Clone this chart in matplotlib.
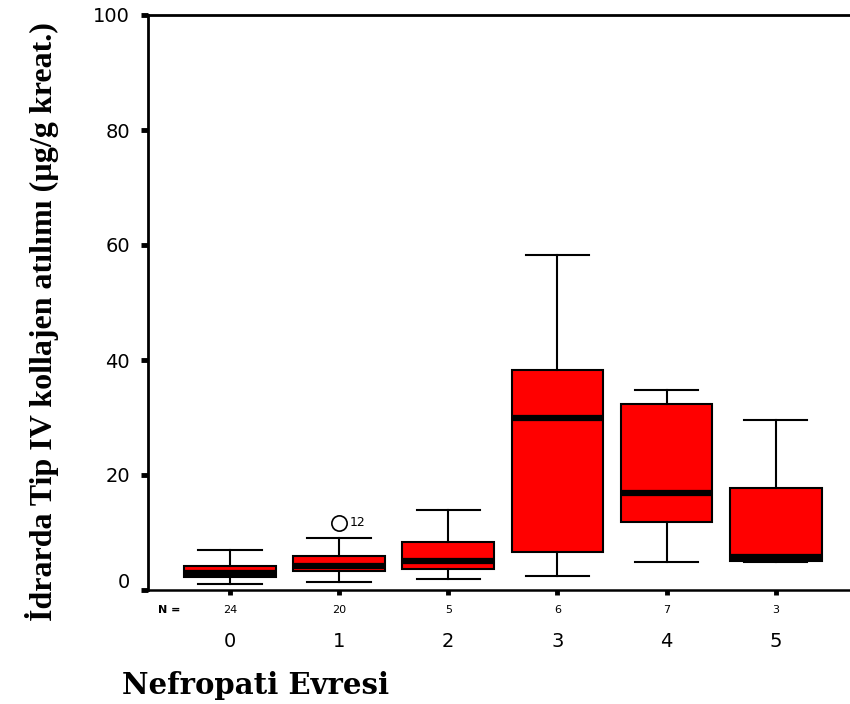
import numpy as np
import matplotlib
matplotlib.use("Agg")
import matplotlib.pyplot as plt
from matplotlib.transforms import ScaledTranslation, blended_transform_factory

# Değerler
stages = ["0", "1", "2", "3", "4", "5"]
n_counts = [24, 20, 5, 6, 7, 3]
whislo = [1.0, 1.4, 2.0, 2.4, 4.8, 4.8]
q1 = [2.2, 3.3, 3.65, 6.6, 11.8, 5.0]
med = [3.0, 4.1, 5.1, 29.9, 16.9, 5.8]
q3 = [4.2, 6.0, 8.35, 38.3, 32.3, 17.8]
whishi = [6.9, 9.0, 13.9, 58.2, 34.8, 29.6]
fliers = [[], [11.7], [], [], [], []]
flier_ids = [[], ["12"], [], [], [], []]

stats = []
for i in range(len(stages)):
    stats.append(dict(whislo=whislo[i], q1=q1[i], med=med[i], q3=q3[i],
                      whishi=whishi[i], fliers=fliers[i], label=stages[i]))

fig = plt.figure(figsize=(8.5, 7.04), dpi=100)
ax = fig.add_axes([148 / 850, 114 / 704, 1 - 148 / 850, 575 / 704])

pos = np.arange(len(stages))
ax.bxp(stats, positions=pos, widths=0.84, capwidths=0.58, patch_artist=True,
       boxprops=dict(facecolor="#ff0000", edgecolor="black", linewidth=1.5),
       medianprops=dict(color="black", linewidth=4.5, solid_capstyle="butt"),
       whiskerprops=dict(color="black", linewidth=1.5),
       capprops=dict(color="black", linewidth=1.5),
       flierprops=dict(marker="o", markerfacecolor="white", markeredgecolor="black",
                       markersize=11, markeredgewidth=1.2))

# aykırı değer etiketi
for i in range(len(stages)):
    for v, lab in zip(fliers[i], flier_ids[i]):
        ax.text(pos[i] + 0.1, v, lab, fontsize=9, va="center", ha="left")

ax.set_xlim(-0.75, 5.68)
ax.set_ylim(0, 100)
ax.set_yticks([0, 20, 40, 60, 80, 100])
ax.set_xticks(pos)
ax.set_xticklabels(stages)

ax.spines["right"].set_visible(False)
ax.spines["left"].set_linewidth(2)
ax.spines["top"].set_linewidth(2)
ax.spines["bottom"].set_linewidth(1.8)

ax.tick_params(axis="y", direction="out", length=5, width=3.5, labelsize=14, pad=8)
ax.tick_params(axis="x", direction="out", length=3.5, width=3.5, labelsize=14, pad=27)

# "0" etiketi biraz yukarıda
lab0 = ax.get_yticklabels()[0]
lab0.set_transform(lab0.get_transform() + ScaledTranslation(0, 0.1, fig.dpi_scale_trans))

# N sayıları
trans = blended_transform_factory(ax.transData, ax.transAxes)
ax.text(-0.56, -0.035, "N =", transform=trans, fontsize=8, fontweight="bold",
        ha="center", va="center")
for i, n in enumerate(n_counts):
    ax.text(pos[i], -0.035, str(n), transform=trans, fontsize=8,
            ha="center", va="center")

fig.text(42 / 850, 1 - 322 / 704, "İdrarda Tip IV kollajen atılımı (µg/g kreat.)",
         rotation=90, ha="center", va="center", fontsize=23, fontweight="bold",
         family="Liberation Serif")
fig.text(256 / 850, 1 - 685 / 704, "Nefropati Evresi", ha="center", va="center",
         fontsize=21, fontweight="bold", family="DejaVu Serif")

fig.savefig("out.png", dpi=100)
